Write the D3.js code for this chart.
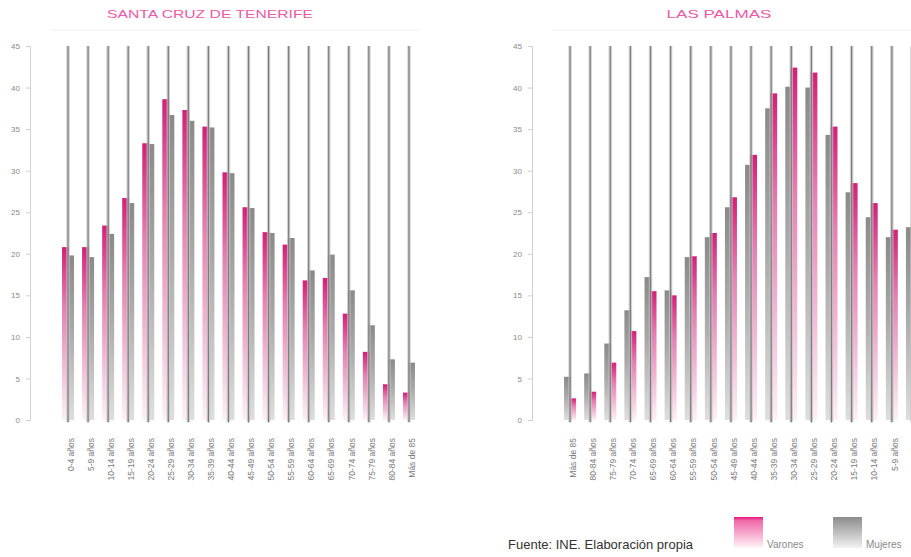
<!DOCTYPE html>
<html>
<head>
<meta charset="utf-8">
<script src="https://cdn.jsdelivr.net/npm/d3@7"></script>
<style>
  body { margin: 0; background: #fff; }
  svg { display: block; }
</style>
</head>
<body>
<svg></svg>
<script>
var svg = d3.select("svg");

var w = 911,
    h = 557;

svg.attr("width", w)
   .attr("height", h);

// grupos de edad (Santa Cruz de izquierda a derecha, Las Palmas al reves)
var ages = ["0-4 años", "5-9 años", "10-14 años", "15-19 años", "20-24 años",
            "25-29 años", "30-34 años", "35-39 años", "40-44 años", "45-49 años",
            "50-54 años", "55-59 años", "60-64 años", "65-69 años", "70-74 años",
            "75-79 años", "80-84 años", "Más de 85"];

var yTicks = [0, 5, 10, 15, 20, 25, 30, 35, 40, 45];

// Santa Cruz de Tenerife
var tfVarones = [20.8, 20.8, 23.4, 26.7, 33.3, 38.6, 37.3, 35.3, 29.8, 25.6,
                 22.6, 21.1, 16.8, 17.1, 12.8, 8.2, 4.3, 3.3];
var tfMujeres = [19.8, 19.6, 22.4, 26.1, 33.2, 36.7, 36.0, 35.2, 29.7, 25.5,
                 22.5, 21.9, 18.0, 19.9, 15.6, 11.4, 7.3, 6.9];

// Las Palmas (mismo orden que ages)
var lpVarones = [23.5, 22.9, 26.1, 28.5, 35.3, 41.8, 42.4, 39.3, 31.9, 26.8,
                 22.5, 19.7, 15.0, 15.5, 10.7, 6.9, 3.4, 2.6];
var lpMujeres = [23.2, 22.0, 24.4, 27.4, 34.3, 40.0, 40.1, 37.5, 30.7, 25.6,
                 22.0, 19.6, 15.6, 17.2, 13.2, 9.2, 5.6, 5.2];

var defs = svg.append("defs");

var gPink = defs.append("linearGradient")
    .attr("id", "gPink")
    .attr("x1", 0).attr("y1", 0).attr("x2", 0).attr("y2", 1);
gPink.append("stop").attr("offset", "0%").attr("stop-color", "#d41f78");
gPink.append("stop").attr("offset", "35%").attr("stop-color", "#e67fb2");
gPink.append("stop").attr("offset", "100%").attr("stop-color", "#fdf0f6");

var gGray = defs.append("linearGradient")
    .attr("id", "gGray")
    .attr("x1", 0).attr("y1", 0).attr("x2", 0).attr("y2", 1);
gGray.append("stop").attr("offset", "0%").attr("stop-color", "#8a8a8a");
gGray.append("stop").attr("offset", "45%").attr("stop-color", "#a9a9a9");
gGray.append("stop").attr("offset", "100%").attr("stop-color", "#dedede");

var lPink = defs.append("linearGradient")
    .attr("id", "lPink")
    .attr("x1", 0).attr("y1", 0).attr("x2", 0).attr("y2", 1);
lPink.append("stop").attr("offset", "0%").attr("stop-color", "#e8157e");
lPink.append("stop").attr("offset", "12%").attr("stop-color", "#f06aa9");
lPink.append("stop").attr("offset", "100%").attr("stop-color", "#fff4f9");

var lGray = defs.append("linearGradient")
    .attr("id", "lGray")
    .attr("x1", 0).attr("y1", 0).attr("x2", 0).attr("y2", 1);
lGray.append("stop").attr("offset", "0%").attr("stop-color", "#8c8c8c");
lGray.append("stop").attr("offset", "100%").attr("stop-color", "#f2f2f2");

var y = d3.scaleLinear()
    .domain([0, 45])
    .range([420, 46]);

function drawPanel(opt) {
    var g = svg.append("g");

    var x = d3.scaleBand()
        .domain(opt.cats)
        .range(opt.range)
        .padding(0);

    // linea tenue superior
    g.append("line")
        .attr("x1", opt.axisX + 20)
        .attr("x2", opt.range[1])
        .attr("y1", 30)
        .attr("y2", 30)
        .attr("stroke", "#f0f0f0");

    // eje y
    var ya = g.append("g")
        .attr("transform", "translate(" + opt.axisX + ",0)")
        .call(d3.axisLeft(y).tickValues(yTicks).tickSize(4).tickPadding(6));
    ya.select(".domain").attr("stroke", "#d0d0d0");
    ya.selectAll(".tick line").attr("stroke", "#cfcfcf");
    ya.selectAll("text")
        .attr("fill", "#8a8a8a")
        .attr("font-family", "Liberation Sans, Arial, sans-serif")
        .attr("font-size", "8px");

    // eje x
    var xa = g.append("g")
        .attr("transform", "translate(0,420)")
        .call(d3.axisBottom(x).tickSize(3).tickPadding(0));
    xa.select(".domain").remove();
    xa.selectAll(".tick line").attr("stroke", "#bbb");
    xa.selectAll("text")
        .attr("fill", "#7a7a7a")
        .attr("font-family", "Liberation Sans, Arial, sans-serif")
        .attr("font-size", "8.5px")
        .attr("text-anchor", "end")
        .attr("dy", "0.32em")
        .attr("transform", "translate(0,18) rotate(-90)");

    var cx = function(d) { return x(d) + x.bandwidth() / 2; };

    // Mujeres
    g.selectAll("rect.muj")
        .data(opt.cats)
        .enter()
        .append("rect")
        .attr("class", "muj")
        .attr("x", function(d) { return cx(d) + opt.grayOff; })
        .attr("y", function(d, i) { return y(opt.muj[i]); })
        .attr("width", 7)
        .attr("height", function(d, i) { return y(0) - y(opt.muj[i]); })
        .attr("fill", "url(#gGray)");

    // Varones
    g.selectAll("rect.var")
        .data(opt.cats)
        .enter()
        .append("rect")
        .attr("class", "var")
        .attr("x", function(d) { return cx(d) + opt.pinkOff; })
        .attr("y", function(d, i) { return y(opt.var[i]); })
        .attr("width", 7)
        .attr("height", function(d, i) { return y(0) - y(opt.var[i]); })
        .attr("fill", "url(#gPink)");

    // lineas verticales de cada grupo
    g.selectAll("line.halo")
        .data(opt.cats)
        .enter()
        .append("line")
        .attr("class", "halo")
        .attr("x1", cx).attr("x2", cx)
        .attr("y1", y(45)).attr("y2", y(0) + 2)
        .attr("stroke", "#c4c4c4")
        .attr("stroke-opacity", 0.75)
        .attr("stroke-width", 3.5);
    g.selectAll("line.core")
        .data(opt.cats)
        .enter()
        .append("line")
        .attr("class", "core")
        .attr("x1", cx).attr("x2", cx)
        .attr("y1", y(45)).attr("y2", y(0) + 2)
        .attr("stroke", "#7c7c7c")
        .attr("stroke-width", 1.2);

    // titulo
    g.append("text")
        .attr("x", opt.titleX)
        .attr("y", 18)
        .attr("text-anchor", "middle")
        .attr("font-family", "Liberation Sans, Arial, sans-serif")
        .attr("font-size", "11px")
        .attr("fill", "#ec5aa5")
        .attr("textLength", opt.titleW)
        .attr("lengthAdjust", "spacingAndGlyphs")
        .text(opt.title);
}

drawPanel({
    title: "SANTA CRUZ DE TENERIFE",
    titleX: 210, titleW: 206,
    cats: ages,
    var: tfVarones,
    muj: tfMujeres,
    axisX: 30,
    range: [58, 419],
    pinkOff: -6,
    grayOff: -1
});

drawPanel({
    title: "LAS PALMAS",
    titleX: 719, titleW: 105,
    cats: ages.slice().reverse(),
    var: lpVarones.slice().reverse(),
    muj: lpMujeres.slice().reverse(),
    axisX: 532,
    range: [560, 922],
    pinkOff: -1,
    grayOff: -6
});

// fuente y leyenda
svg.append("text")
    .attr("x", 508)
    .attr("y", 549)
    .attr("font-family", "Liberation Sans, Arial, sans-serif")
    .attr("font-size", "13px")
    .attr("fill", "#333")
    .text("Fuente: INE. Elaboración propia");

var legend = [
    {name: "Varones", fill: "url(#lPink)", x: 734},
    {name: "Mujeres", fill: "url(#lGray)", x: 833}
];

svg.selectAll("rect.leg")
    .data(legend)
    .enter()
    .append("rect")
    .attr("class", "leg")
    .attr("x", function(d) { return d.x; })
    .attr("y", 517)
    .attr("width", 29)
    .attr("height", 31)
    .attr("fill", function(d) { return d.fill; });

svg.selectAll("text.leg")
    .data(legend)
    .enter()
    .append("text")
    .attr("class", "leg")
    .attr("x", function(d) { return d.x + 33; })
    .attr("y", 548)
    .attr("font-family", "Liberation Sans, Arial, sans-serif")
    .attr("font-size", "10px")
    .attr("fill", "#8a8a8a")
    .text(function(d) { return d.name; });
</script>
</body>
</html>
